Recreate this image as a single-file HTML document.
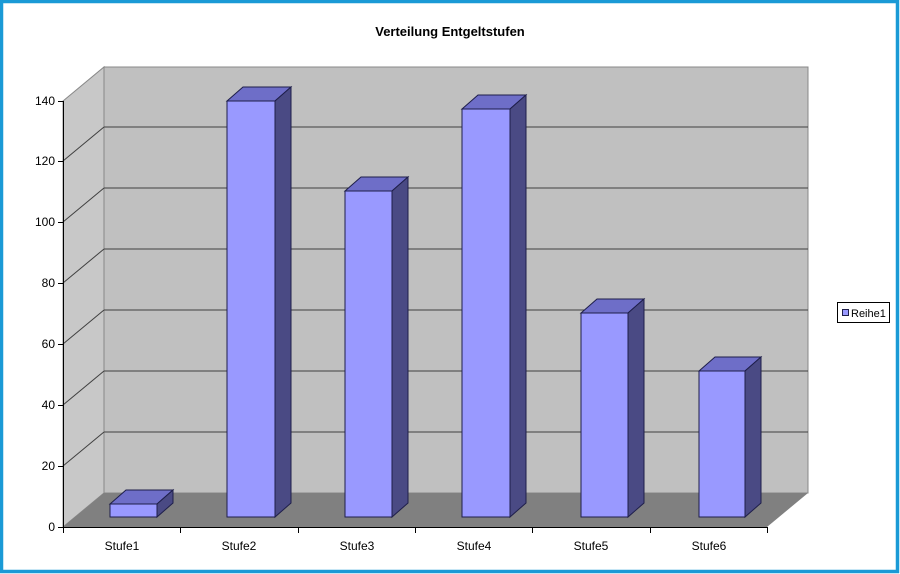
<!DOCTYPE html>
<html><head><meta charset="utf-8"><style>
html,body{margin:0;padding:0;background:#fff}
svg{display:block}
text{font-family:"Liberation Sans",Arial,sans-serif;fill:#000}
</style></head><body>
<svg width="900" height="574" viewBox="0 0 900 574" xmlns="http://www.w3.org/2000/svg">
<rect x="0" y="0" width="900" height="574" fill="#fff"/>
<rect x="1.5" y="1.5" width="896" height="570" fill="none" stroke="#1a9ad6" stroke-width="3.5"/>
<text x="450" y="36" font-size="13" font-weight="bold" text-anchor="middle">Verteilung Entgeltstufen</text>
<!-- left wall -->
<polygon points="63,101 104,67 104,493 63,527" fill="#c8c8c8" stroke="#888" stroke-width="1"/>
<!-- back wall -->
<rect x="104" y="67" width="704" height="426" fill="#c0c0c0" stroke="#888" stroke-width="1"/>
<!-- floor -->
<polygon points="63,527 104,493 808,493 767,527" fill="#808080"/>
<g stroke="#404040" stroke-width="1" fill="none">
<path d="M104,432H808M104,371H808M104,310H808M104,249H808M104,188H808M104,127H808"/>
<path d="M63,466L104,432M63,405L104,371M63,344L104,310M63,283L104,249M63,222L104,188M63,161L104,127"/>
</g>
<!-- axes -->
<g stroke="#000" stroke-width="1" fill="none">
<path d="M63.5,101V527.5H767"/>
<path d="M58,527.5H63M58,466.5H63M58,405.5H63M58,344.5H63M58,283.5H63M58,222.5H63M58,161.5H63M58,101.5H63"/>
<path d="M63.5,527V533M180.5,527V533M298.5,527V533M415.5,527V533M532.5,527V533M650.5,527V533M767.5,527V533"/>
</g>
<g font-size="12" text-anchor="end">
<text x="55" y="531">0</text><text x="55" y="470">20</text><text x="55" y="409">40</text><text x="55" y="348">60</text>
<text x="55" y="287">80</text><text x="55" y="226">100</text><text x="55" y="165">120</text><text x="55" y="105">140</text>
</g>
<g font-size="12" text-anchor="middle">
<text x="122" y="550">Stufe1</text><text x="239" y="550">Stufe2</text><text x="357" y="550">Stufe3</text>
<text x="474" y="550">Stufe4</text><text x="591" y="550">Stufe5</text><text x="709" y="550">Stufe6</text>
</g>
<!-- bars -->
<g stroke="#1e1e4a" stroke-width="1">
<g id="b1"><polygon points="110,504 126,490 173,490 157,504" fill="#6e6ec8"/><polygon points="157,504 173,490 173,503 157,517" fill="#4a4a84"/><rect x="110" y="504" width="47" height="13" fill="#9999ff"/></g>
<g><polygon points="227,101 243,87 291,87 275,101" fill="#6e6ec8"/><polygon points="275,101 291,87 291,503 275,517" fill="#4a4a84"/><rect x="227" y="101" width="48" height="416" fill="#9999ff"/></g>
<g><polygon points="345,191 361,177 408,177 392,191" fill="#6e6ec8"/><polygon points="392,191 408,177 408,503 392,517" fill="#4a4a84"/><rect x="345" y="191" width="47" height="326" fill="#9999ff"/></g>
<g><polygon points="462,109 478,95 526,95 510,109" fill="#6e6ec8"/><polygon points="510,109 526,95 526,503 510,517" fill="#4a4a84"/><rect x="462" y="109" width="48" height="408" fill="#9999ff"/></g>
<g><polygon points="581,313 597,299 644,299 628,313" fill="#6e6ec8"/><polygon points="628,313 644,299 644,503 628,517" fill="#4a4a84"/><rect x="581" y="313" width="47" height="204" fill="#9999ff"/></g>
<g><polygon points="699,371 715,357 761,357 745,371" fill="#6e6ec8"/><polygon points="745,371 761,357 761,503 745,517" fill="#4a4a84"/><rect x="699" y="371" width="46" height="146" fill="#9999ff"/></g>
</g>
<!-- legend -->
<rect x="837.5" y="302.5" width="52" height="20" fill="#fff" stroke="#000" stroke-width="1"/>
<rect x="842.5" y="309.5" width="6" height="6" fill="#9999ff" stroke="#1e1e4a" stroke-width="1"/>
<text x="851" y="317" font-size="11">Reihe1</text>
</svg>
</body></html>
